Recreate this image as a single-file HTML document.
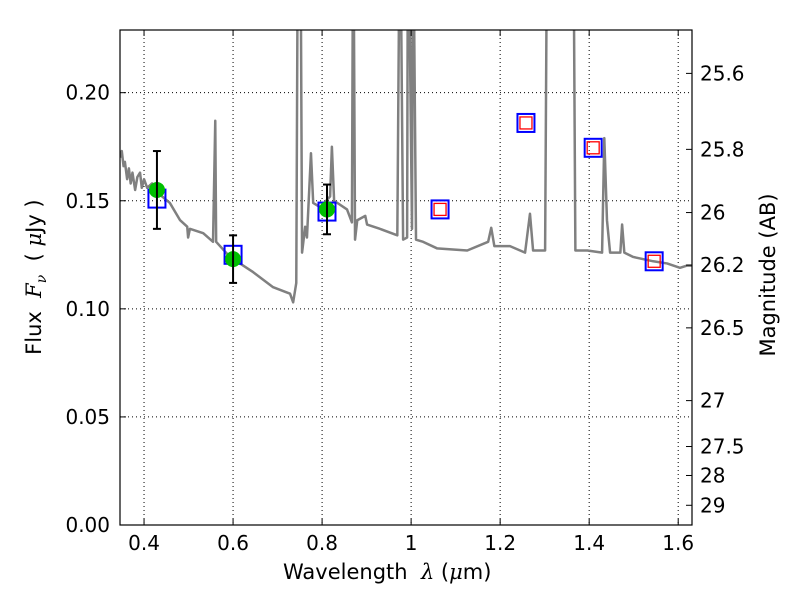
<!DOCTYPE html>
<html><head><meta charset="utf-8"><style>body{margin:0;background:#fff}svg{display:block}text{font-family:"DejaVu Sans","Liberation Sans",sans-serif}</style></head>
<body>
<svg id="chart" width="800" height="600" viewBox="0 0 800 600" xmlns="http://www.w3.org/2000/svg"></svg>
<script>
const specWl=[0.346,0.350,0.354,0.357,0.362,0.366,0.370,0.374,0.380,0.385,0.391,0.395,0.400,0.407,0.418,0.429,0.458,0.481,0.497,0.499,0.503,0.533,0.555,0.560,0.562,0.593,0.645,0.690,0.728,0.735,0.742,0.746,0.751,0.755,0.762,0.766,0.775,0.780,0.796,0.818,0.822,0.827,0.856,0.867,0.870,0.874,0.879,0.897,0.901,0.930,0.969,0.975,0.982,0.991,0.993,1.002,1.004,1.011,1.027,1.058,1.126,1.173,1.180,1.187,1.222,1.256,1.267,1.274,1.301,1.306,1.364,1.369,1.396,1.429,1.434,1.440,1.447,1.470,1.474,1.479,1.499,1.544,1.575,1.604,1.620,1.636];
const specFlux=[0.170,0.173,0.166,0.168,0.160,0.165,0.158,0.163,0.155,0.161,0.163,0.156,0.160,0.156,0.158,0.154,0.149,0.141,0.138,0.133,0.137,0.135,0.131,0.187,0.131,0.124,0.117,0.110,0.107,0.103,0.112,0.30,0.30,0.126,0.138,0.133,0.172,0.149,0.147,0.152,0.175,0.150,0.146,0.140,0.30,0.132,0.141,0.143,0.139,0.137,0.134,0.30,0.132,0.133,0.30,0.137,0.30,0.132,0.131,0.128,0.127,0.131,0.1375,0.129,0.129,0.126,0.144,0.127,0.127,0.30,0.30,0.127,0.127,0.126,0.179,0.141,0.126,0.126,0.139,0.126,0.124,0.122,0.121,0.119,0.120,0.120];
const obsWl=[0.429,0.600,0.811];
const obsFlux=[0.155,0.123,0.146];
const obsErr=[0.018,0.011,0.0115];
const modWl=[0.429,0.600,0.811,1.065,1.258,1.409,1.546];
const modFlux=[0.151,0.125,0.145,0.146,0.186,0.1745,0.122];
const predWl=[1.065,1.258,1.409,1.546];
const predFlux=[0.146,0.186,0.1745,0.122];
const xTicks=[0.4,0.6,0.8,1.0,1.2,1.4,1.6];
const xTickLabels=["0.4","0.6","0.8","1","1.2","1.4","1.6"];
const yTicks=[0,0.05,0.10,0.15,0.20];
const yTickLabels=["0.00","0.05","0.10","0.15","0.20"];
const magTicks=[25.6,25.8,26,26.2,26.5,27,27.5,28,29];
const magTickLabels=["25.6","25.8","26","26.2","26.5","27","27.5","28","29"];

const L=120,R=692,T=30,B=525;
const xMin=0.346,xMax=1.631,yMin=0,yMax=0.229;
const X=v=>L+(v-xMin)/(xMax-xMin)*(R-L);
const Y=v=>B-(v-yMin)/(yMax-yMin)*(B-T);
const NS="http://www.w3.org/2000/svg";
const svg=document.getElementById('chart');
function mk(tag,attrs,parent){const e=document.createElementNS(NS,tag);for(const k in attrs)e.setAttribute(k,attrs[k]);(parent||svg).appendChild(e);return e;}

const defs=mk('defs',{});
const cp=mk('clipPath',{id:'clip'},defs);
mk('rect',{x:L,y:T,width:R-L,height:B-T},cp);

const grid=mk('g',{});


xTicks.forEach(v=>{mk('line',{x1:X(v),x2:X(v),y1:T,y2:B,stroke:'#000','stroke-width':1,'stroke-dasharray':'1,3'},grid);});
yTicks.forEach(v=>{mk('line',{x1:L,x2:R,y1:Y(v),y2:Y(v),stroke:'#000','stroke-width':1,'stroke-dasharray':'1,3'},grid);});

const spec=mk('polyline',{points:specWl.map((w,i)=>X(w)+','+Y(specFlux[i])).join(' '),fill:'none',stroke:'#808080','stroke-width':2.5,'clip-path':'url(#clip)','stroke-linejoin':'round'});



modWl.forEach((w,i)=>{const r=mk('rect',{x:X(w)-8.5,y:Y(modFlux[i])-9,width:17,height:18,fill:'none',stroke:'#0000ff','stroke-width':2});

});
predWl.forEach((w,i)=>{const r=mk('rect',{x:X(w)-6,y:Y(predFlux[i])-6,width:12,height:12,fill:'none',stroke:'#ff0000','stroke-width':1.3});

});
obsWl.forEach((w,i)=>{
const g=mk('g',{});


const x=X(w),y1=Y(obsFlux[i]+obsErr[i]),y2=Y(obsFlux[i]-obsErr[i]);
mk('circle',{cx:x,cy:Y(obsFlux[i]),r:8,fill:'#00c000'},g);
mk('line',{x1:x,x2:x,y1:y1,y2:y2,stroke:'#000','stroke-width':2},g);
mk('line',{x1:x-4,x2:x+4,y1:y1,y2:y1,stroke:'#000','stroke-width':2},g);
mk('line',{x1:x-4,x2:x+4,y1:y2,y2:y2,stroke:'#000','stroke-width':2},g);
});

const frame=mk('rect',{x:L,y:T,width:R-L,height:B-T,fill:'none',stroke:'#000','stroke-width':1.2});



xTicks.forEach((v,i)=>{const x=X(v);
mk('line',{x1:x,x2:x,y1:B,y2:B-6,stroke:'#000'});mk('line',{x1:x,x2:x,y1:T,y2:T+6,stroke:'#000'});
const t=mk('text',{x:x,y:B+25,'text-anchor':'middle','font-size':20});t.textContent=xTickLabels[i];

});
yTicks.forEach((v,i)=>{const y=Y(v);
mk('line',{x1:L,x2:L+6,y1:y,y2:y,stroke:'#000'});
const t=mk('text',{x:L-10,y:y+7,'text-anchor':'end','font-size':20});t.textContent=yTickLabels[i];

});
magTicks.forEach((m,i)=>{const y=Y(Math.pow(10,(23.9-m)/2.5));
mk('line',{x1:R,x2:R-6,y1:y,y2:y,stroke:'#000'});
const t=mk('text',{x:R+8,y:y+7,'font-size':20});t.textContent=magTickLabels[i];

});
</script>
<div style="position:absolute;left:0;top:0;width:800px;height:600px;pointer-events:none">
<div style="position:absolute;left:283px;top:560px;font:21px 'DejaVu Sans',sans-serif;white-space:nowrap">Wavelength &nbsp;<i style="font-family:'DejaVu Serif',serif">λ</i> (<i style="font-family:'DejaVu Serif',serif">μ</i>m)</div>
<div style="position:absolute;left:-64px;top:263px;width:200px;text-align:center;transform:rotate(-90deg);font:21px 'DejaVu Sans',sans-serif;white-space:nowrap">Flux &nbsp;<i style="font-family:'DejaVu Serif',serif">F<sub style="font-size:14px">ν</sub></i> &nbsp;( <i style="font-family:'DejaVu Serif',serif">μ</i>Jy )</div>
<div style="position:absolute;left:668px;top:263px;width:200px;text-align:center;transform:rotate(-90deg);font:21px 'DejaVu Sans',sans-serif;white-space:nowrap">Magnitude (AB)</div>
</div>
</body></html>
